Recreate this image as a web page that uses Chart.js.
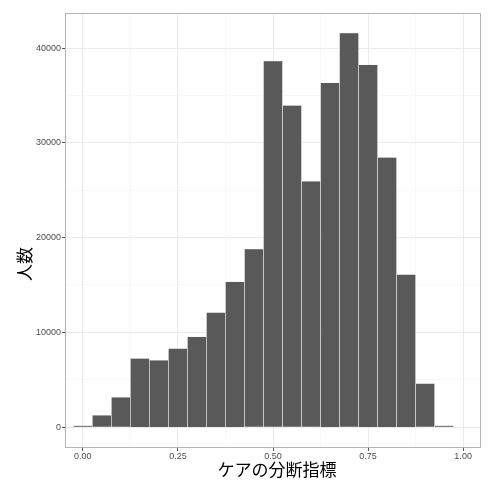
<!DOCTYPE html>
<html>
<head>
<meta charset="utf-8">
<script src="https://cdn.jsdelivr.net/npm/chart.js@4/dist/chart.umd.min.js"></script>
<style>
  html, body { margin: 0; padding: 0; background: #fff; }
  #wrap { width: 500px; height: 482px; }
</style>
</head>
<body>
<div id="wrap"><canvas id="histChart"></canvas></div>
<script>
// bin centres (width 0.05) and counts
const binCenters = [0.00, 0.05, 0.10, 0.15, 0.20, 0.25, 0.30, 0.35, 0.40, 0.45,
                    0.50, 0.55, 0.60, 0.65, 0.70, 0.75, 0.80, 0.85, 0.90, 0.95];
const counts = [150, 1270, 3170, 7250, 7070, 8300, 9530, 12100, 15340, 18790,
                38630, 33950, 25960, 36340, 41600, 38240, 28460, 16110, 4610, 150];

const xTicks = [0, 0.125, 0.25, 0.375, 0.5, 0.625, 0.75, 0.875, 1];
const xLabels = ['0.00', '', '0.25', '', '0.50', '', '0.75', '', '1.00'];
const yTicks = [0, 5000, 10000, 15000, 20000, 25000, 30000, 35000, 40000];
const yLabels = ['0', '', '10000', '', '20000', '', '30000', '', '40000'];

const xTitle = 'ケアの分断指標';
const yTitle = '人数';

const tickFont = { family: '"Liberation Sans", Arial, sans-serif', size: 9 };
const titleFont = '17px "Noto Sans CJK JP", sans-serif';

// Panel border and axis titles (ggplot style)
const panelPlugin = {
  id: 'panel',
  afterDraw(chart) {
    const ctx = chart.ctx;
    const a = chart.chartArea;
    ctx.save();
    ctx.strokeStyle = '#b5b5b5';
    ctx.lineWidth = 1;
    ctx.strokeRect(a.left + 0.5, a.top + 0.5, a.right - a.left - 1, a.bottom - a.top - 1);
    ctx.fillStyle = '#000';
    ctx.font = titleFont;
    ctx.textAlign = 'center';
    ctx.textBaseline = 'middle';
    ctx.fillText(xTitle, 277, 470);
    ctx.translate(25, 264);
    ctx.rotate(-Math.PI / 2);
    ctx.fillText(yTitle, 0, 0);
    ctx.restore();
  }
};

const isMajor = (list, v) => list.indexOf(v) % 2 === 0;

new Chart(document.getElementById('histChart'), {
  type: 'bar',
  data: {
    datasets: [{
      data: binCenters.map((x, i) => ({ x: x, y: counts[i] })),
      backgroundColor: '#595959',
      borderColor: '#e6e6e6',
      borderWidth: 0.6,
      barPercentage: 1,
      categoryPercentage: 1
    }]
  },
  options: {
    responsive: true,
    maintainAspectRatio: false,
    animation: false,
    layout: { padding: { top: 13, right: 19, left: 0, bottom: 0 } },
    plugins: {
      legend: { display: false },
      tooltip: { enabled: false }
    },
    scales: {
      x: {
        type: 'linear',
        min: -0.047,
        max: 1.047,
        offset: false,
        afterBuildTicks: scale => { scale.ticks = xTicks.map(v => ({ value: v })); },
        afterFit: scale => { scale.height = 34; },
        ticks: {
          autoSkip: false,
          maxRotation: 0,
          padding: 0,
          color: '#4d4d4d',
          font: tickFont,
          callback: (v, i) => xLabels[i]
        },
        grid: {
          offset: false,
          tickLength: 3,
          lineWidth: c => (c.tick && isMajor(xTicks, c.tick.value)) ? 1 : 0.6,
          color: c => (c.tick && isMajor(xTicks, c.tick.value)) ? '#ebebeb' : '#f3f3f3',
          tickColor: c => (c.tick && isMajor(xTicks, c.tick.value)) ? '#555' : 'rgba(0,0,0,0)'
        },
        border: { display: false }
      },
      y: {
        min: -2200,
        max: 43700,
        afterBuildTicks: scale => { scale.ticks = yTicks.map(v => ({ value: v })); },
        afterFit: scale => { scale.width = 65; },
        ticks: {
          autoSkip: false,
          padding: 1,
          color: '#4d4d4d',
          font: tickFont,
          callback: (v, i) => yLabels[i]
        },
        grid: {
          tickLength: 3,
          lineWidth: c => (c.tick && isMajor(yTicks, c.tick.value)) ? 1 : 0.6,
          color: c => (c.tick && isMajor(yTicks, c.tick.value)) ? '#ebebeb' : '#f3f3f3',
          tickColor: c => (c.tick && isMajor(yTicks, c.tick.value)) ? '#555' : 'rgba(0,0,0,0)'
        },
        border: { display: false }
      }
    }
  },
  plugins: [panelPlugin]
});
</script>
</body>
</html>
